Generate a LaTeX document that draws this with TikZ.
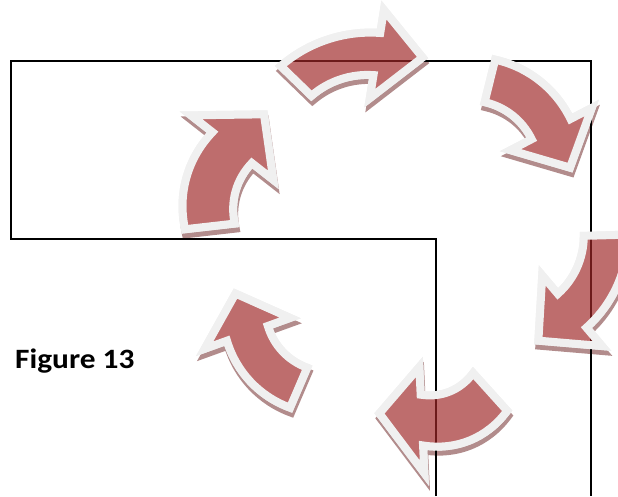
\documentclass[tikz,border=0pt]{standalone}
\usepackage{fontspec}
\setmainfont{Carlito}
\usetikzlibrary{calc}
\definecolor{rougeC}{RGB}{160,40,40}
\definecolor{ombreC}{RGB}{178,140,140}
\definecolor{bordC}{RGB}{240,240,240}
\tikzset{
  mur/.style={draw=black, line width=2pt, line join=miter},
  ombre/.style={fill=ombreC, draw=ombreC, line width=8pt, line join=miter},
  socle/.style={fill=white, draw=bordC, line width=8pt, line join=miter},
  corps/.style={fill=rougeC, fill opacity=0.68},
  bord/.style={draw=bordC, line width=8pt, line join=miter},
}
% one curved arrow, chord from tail to head along +x, centred at the origin
\newcommand{\flechetrace}{(115:117) arc[start angle=115,end angle=65,radius=117]
  -- (65:141) -- ($(65:95)+(-25:44)$) -- (65:49)
  -- (65:73) arc[start angle=65,end angle=115,radius=73] -- cycle}
% x / y / rotation / xscale / yscale
\newcommand{\flechesliste}{336.5/428.5/18.4/1.06/0.95, 520.5/391/-38.2/0.97/1,
  589/223/-114.1/1.03/1, 456/90/202.4/0.92/1.2, 273/135.5/133.3/0.93/1,
  221/309/74.2/1.02/1.16}

\begin{document}
\begin{tikzpicture}[x=1pt,y=1pt]
  \useasboundingbox (0,0) rectangle (618,496);
  \foreach \mx/\my/\rot/\sx/\sy in \flechesliste {
    \begin{scope}[shift={(\mx+1,\my-5)},rotate=\rot,xscale=\sx,yscale=\sy,shift={(0,-86.1)}]
      \path[ombre] \flechetrace;
    \end{scope}
    \begin{scope}[shift={(\mx,\my)},rotate=\rot,xscale=\sx,yscale=\sy,shift={(0,-86.1)}]
      \path[socle] \flechetrace;
    \end{scope}
  }
  \draw[mur] (436,0) -- (436,257) -- (11,257) -- (11,435) -- (591,435) -- (591,0);
  \foreach \mx/\my/\rot/\sx/\sy in \flechesliste {
    \begin{scope}[shift={(\mx,\my)},rotate=\rot,xscale=\sx,yscale=\sy,shift={(0,-86.1)}]
      \path[corps] \flechetrace;
      \path[bord] \flechetrace;
    \end{scope}
  }
  \node[font=\bfseries\fontsize{28}{32}\selectfont, xscale=1.12, anchor=base west,
        inner sep=0pt] (titre) at (15,127.7) {Figure 13};
\end{tikzpicture}
\end{document}
